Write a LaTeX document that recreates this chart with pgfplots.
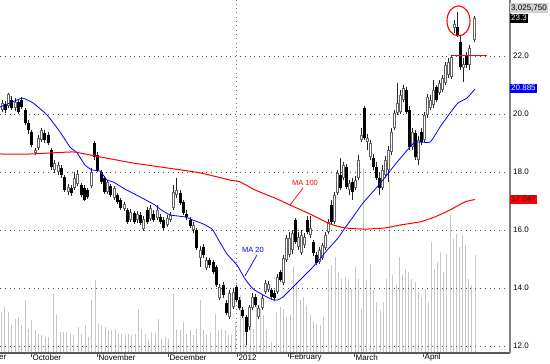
\documentclass[border=0pt]{standalone}
\usepackage{fontspec}
\setmainfont{Liberation Sans}
\usepackage{pgfplots}
\usepackage{pgfplotstable}
\pgfplotsset{compat=1.18}

\pgfplotstableread{
x o h l c
2.5 20.14 20.48 20.07 20.38
5.5 20.34 20.45 20.03 20.14
8.5 20.28 20.72 20.21 20.69
11.5 20.48 20.62 20.14 20.21
15.5 20.21 20.55 20.10 20.41
18.5 20.41 20.48 20.00 20.07
21.5 20.48 20.59 20.17 20.24
25.5 20.14 20.21 19.62 19.69
28.5 19.69 19.79 19.31 19.45
31.5 19.38 19.45 18.86 18.93
35.5 18.66 18.83 18.59 18.76
38.5 18.83 19.28 18.76 19.17
41.5 19.10 19.52 19.03 19.45
44.5 19.34 19.45 19.00 19.10
48.5 19.28 19.38 18.93 19.00
51.5 18.76 18.83 18.07 18.17
54.5 18.07 18.41 17.97 18.31
58.5 18.00 18.34 17.90 18.24
61.5 18.14 18.24 17.79 17.90
64.5 17.83 17.90 17.31 17.38
68.5 17.31 17.59 17.21 17.48
71.5 17.45 17.55 17.17 17.28
74.5 17.45 18.00 17.38 17.79
77.5 17.59 18.07 17.52 17.93
81.5 17.55 17.62 17.14 17.21
84.5 17.45 17.55 17.00 17.03
87.5 17.38 17.45 17.07 17.14
91.5 17.52 18.14 17.45 18.00
94.5 19.00 19.07 18.41 18.52
97.5 18.59 18.69 18.00 18.07
101.5 18.00 18.07 17.59 17.66
104.5 17.79 17.86 17.24 17.31
107.5 17.31 17.72 17.24 17.66
110.5 17.52 17.59 17.14 17.21
114.5 17.10 17.52 17.03 17.45
117.5 17.21 17.28 16.90 16.97
120.5 17.03 17.10 16.69 16.76
124.5 16.72 16.97 16.66 16.90
127.5 16.69 16.76 16.21 16.28
130.5 16.34 16.72 16.28 16.62
134.5 16.59 16.66 16.21 16.28
137.5 16.34 16.66 16.24 16.55
140.5 16.52 16.62 16.17 16.24
143.5 16.03 16.48 15.97 16.38
147.5 16.69 16.79 16.21 16.28
150.5 16.38 16.86 16.31 16.76
153.5 16.55 16.69 16.28 16.34
157.5 16.41 16.86 16.34 16.69
160.5 16.45 16.55 16.21 16.28
163.5 16.34 16.45 16.00 16.07
167.5 16.17 16.52 16.10 16.41
170.5 16.34 16.62 16.28 16.52
173.5 16.76 17.55 16.69 17.31
176.5 17.21 17.79 17.10 17.38
180.5 17.28 17.38 16.86 16.93
183.5 16.97 17.03 16.52 16.59
186.5 16.55 16.69 16.34 16.45
190.5 16.34 16.45 16.07 16.14
193.5 16.00 16.28 15.90 16.17
196.5 16.00 16.07 15.31 15.38
200.5 15.03 15.45 14.72 15.31
203.5 15.41 15.52 15.03 15.14
206.5 14.69 15.07 14.62 14.97
209.5 14.97 15.03 14.69 14.79
213.5 14.90 14.97 14.48 14.55
216.5 14.72 14.79 14.03 14.10
219.5 13.66 14.14 13.59 14.03
223.5 14.10 14.21 13.66 13.76
226.5 13.48 13.59 13.07 13.14
229.5 13.00 13.93 12.93 13.83
233.5 13.34 14.00 13.28 13.86
236.5 14.03 14.10 13.52 13.59
239.5 13.59 13.69 13.24 13.31
242.5 13.24 13.34 12.97 13.03
246.5 13.00 13.07 12.03 12.48
249.5 12.66 13.41 12.55 13.34
252.5 13.31 13.83 13.24 13.69
255.5 13.69 13.79 13.34 13.41
258.5 13.00 13.41 12.93 13.31
262.5 13.31 13.76 13.24 13.66
265.5 13.86 14.28 13.79 14.17
268.5 13.93 14.24 13.86 14.14
271.5 13.93 14.00 13.62 13.69
274.5 13.83 13.93 13.55 13.66
277.5 13.86 14.48 13.79 14.38
280.5 14.55 14.62 14.21 14.28
283.5 14.17 15.14 14.10 15.03
286.5 14.97 15.83 14.90 15.72
289.5 15.14 15.93 15.07 15.72
292.5 15.31 16.00 15.17 15.90
295.5 16.34 16.41 15.52 15.59
298.5 15.41 15.93 15.31 15.76
301.5 15.21 16.00 15.14 15.83
304.5 15.48 15.90 15.38 15.76
307.5 16.34 16.48 15.86 15.93
310.5 15.83 16.48 15.72 16.07
313.5 15.59 15.66 15.10 15.21
316.5 15.14 15.24 14.79 14.86
319.5 14.90 15.41 14.83 15.31
322.5 15.03 15.55 14.97 15.48
325.5 15.38 15.93 15.31 15.83
328.5 15.93 16.38 15.86 16.28
331.5 16.86 17.03 16.21 16.28
334.5 16.28 17.31 16.21 17.21
337.5 17.28 18.07 17.21 17.97
340.5 17.90 18.48 17.38 17.45
343.5 17.79 18.34 17.72 18.24
346.5 18.17 18.28 17.41 17.48
349.5 17.38 17.72 17.21 17.62
352.5 17.66 17.79 17.03 17.31
355.5 17.45 17.86 17.38 17.72
358.5 17.79 18.59 17.72 18.41
361.5 19.10 19.52 19.03 19.28
364.5 20.21 20.28 19.10 19.17
367.5 19.03 19.31 18.76 19.17
370.5 18.52 19.10 18.41 19.00
373.5 18.48 18.62 18.07 18.17
376.5 18.17 18.34 17.72 17.79
379.5 17.79 18.00 17.21 17.45
382.5 17.45 18.24 17.38 18.07
385.5 17.90 18.55 17.79 18.41
388.5 18.07 18.90 17.66 18.76
391.5 18.69 19.52 18.59 19.38
394.5 19.52 20.14 19.45 20.03
397.5 20.03 21.07 19.97 20.38
400.5 20.07 20.83 20.00 20.66
403.5 20.48 21.00 20.41 20.90
406.5 20.83 20.93 20.00 20.07
409.5 20.14 20.28 18.76 18.86
412.5 18.86 19.52 18.76 19.38
415.5 19.34 19.45 18.41 18.52
418.5 18.41 19.24 18.24 19.10
421.5 19.38 19.52 18.93 19.03
424.5 19.10 20.07 19.03 19.97
427.5 19.97 20.69 19.86 20.59
430.5 20.21 20.66 20.14 20.48
433.5 20.31 21.17 20.21 20.83
436.5 20.93 21.00 20.41 20.48
439.5 20.72 21.17 20.66 21.07
442.5 20.83 21.35 20.76 21.24
445.5 21.07 21.79 21.00 21.69
448.5 21.35 21.93 21.24 21.79
451.5 21.28 22.03 21.21 21.97
454.5 22.97 23.24 22.79 23.10
457.5 23.00 23.52 22.65 22.72
460.5 22.48 22.72 21.52 21.62
463.5 21.59 21.93 21.10 21.72
466.5 22.03 22.14 21.59 21.69
469.5 21.69 22.38 21.52 22.28
474.5 22.55 23.38 22.48 23.31
}\candles

\pgfplotstableread{
x v
1.5 410
4.5 460
8.5 410
11.5 280
15.5 340
18.5 360
21.5 280
25.5 530
28.5 240
31.5 330
35.5 230
38.5 190
41.5 180
45.5 160
48.5 160
53.5 590
56.5 380
60.5 210
63.5 210
66.5 210
70.5 190
73.5 180
78.5 260
81.5 190
85.5 280
88.5 160
91.5 530
95.5 730
98.5 290
101.5 280
105.5 260
108.5 230
111.5 230
115.5 240
118.5 190
121.5 190
125.5 180
128.5 190
131.5 180
135.5 190
138.5 440
141.5 240
145.5 190
148.5 140
151.5 210
155.5 190
158.5 340
161.5 140
165.5 160
168.5 140
173.5 590
176.5 240
180.5 230
183.5 310
186.5 190
190.5 230
193.5 180
196.5 240
200.5 530
203.5 230
206.5 180
210.5 210
215.5 390
218.5 230
221.5 240
225.5 230
228.5 180
231.5 180
235.5 310
240.5 580
243.5 440
246.5 310
250.5 280
253.5 240
256.5 540
260.5 440
263.5 380
266.5 240
271.5 110
276.5 410
280.5 460
283.5 440
286.5 360
290.5 380
293.5 860
296.5 710
300.5 530
303.5 560
306.5 480
310.5 380
313.5 310
316.5 290
320.5 280
323.5 360
328.5 840
331.5 880
335.5 960
338.5 810
341.5 740
345.5 760
348.5 740
351.5 640
355.5 860
358.5 740
361.5 440
363.5 1850
366.5 730
370.5 890
373.5 630
376.5 510
380.5 430
383.5 510
386.5 740
389.5 1730
392.5 780
396.5 680
399.5 960
402.5 780
405.5 840
408.5 810
411.5 740
415.5 710
418.5 610
421.5 560
425.5 640
428.5 510
431.5 1110
434.5 840
437.5 910
440.5 1010
443.5 810
446.5 990
450.5 1380
453.5 1140
456.5 1190
459.5 1060
462.5 1180
465.5 1080
468.5 740
471.5 680
475.5 980
}\volume

\pgfplotstableread{
x y
0 20.24
10 20.38
22 20.55
25 20.52
33 20.38
47 19.97
60 19.38
70 18.86
77 18.66
85 18.24
92 18.07
100 18.03
107 17.72
113 17.66
125 17.41
140 17.14
155 16.86
160 16.72
170 16.52
185 16.45
193 16.34
203 16.21
212 16.03
218 15.69
227 15.17
237 14.79
245 14.31
253 13.97
263 13.76
273 13.59
278 13.59
283 13.69
290 13.93
297 14.17
303 14.38
312 14.69
320 15.00
328 15.34
338 15.72
345 16.07
353 16.45
363 16.93
377 17.48
387 17.90
397 18.34
405 18.66
415 19.03
430 19.03
440 19.55
450 20.03
458 20.38
467 20.55
475 20.86
}\maTwenty

\pgfplotstableread{
x y
0 18.62
30 18.62
53 18.66
73 18.69
85 18.62
100 18.52
133 18.31
167 18.14
200 17.97
230 17.72
240 17.66
255 17.38
275 17.10
290 16.86
310 16.55
330 16.21
345 16.07
365 16.03
385 16.07
400 16.17
420 16.28
435 16.45
450 16.69
465 16.97
475 17.05
}\maHundred

\begin{document}
\begin{tikzpicture}[font=\fontsize{8}{9.5}\selectfont]
\begin{axis}[at={(0,0)}, anchor=south west, width=510pt, height=353pt, scale only axis,
  xmin=0, xmax=510, ymin=0, ymax=3530, hide axis]
\addplot[ycomb, draw=gray!45, line width=1.2pt, mark=none] table[x=x, y=v] {\volume};
\end{axis}
\begin{axis}[at={(0,0)}, anchor=south west, width=510pt, height=353pt, scale only axis,
  xmin=0, xmax=510, ymin=11.757, ymax=23.931,
  clip=false,
  axis x line*=bottom, axis y line*=right,
  x axis line style={draw=black!65, line width=1.5pt},
  y axis line style={draw=black!50, line width=2pt},
  ytick={12,14,16,18,20,22},
  yticklabels={12.0,14.0,16.0,18.0,20.0,22.0},
  ytick style={draw=none},
  ymajorgrids,
  y grid style={black!70, line width=0.6pt, dash pattern=on 0.8pt off 4pt},
  xtick={31,97,168,237,288,354,423},
  xticklabels={October,November,December,2012,February,March,April},
  xtick align=outside, major tick length=4pt,
  xtick style={draw=black!70, line width=0.7pt},
  xticklabel style={anchor=west, inner sep=0pt, xshift=1.5pt, yshift=-0.5pt},
  yticklabel style={anchor=west, inner sep=0pt, xshift=3pt},
  candle/.style={draw=none, mark=none, forget plot, restrict y to domain=0:50,
    error bars/.cd, y dir=plus, y explicit, error mark=none},
]
\draw[black!55, line width=0.6pt, dash pattern=on 0.8pt off 3.5pt] (axis cs:236,11.757) -- (axis cs:236,23.931);
% wicks
\addplot[candle, error bar style={draw=black!85, line width=1pt, line cap=butt}]
  table[x=x, y=l, y error plus expr={\thisrow{h}-\thisrow{l}}] {\candles};
% body outline (all candles)
\addplot[candle, error bar style={draw=black!60, line width=3pt, line cap=butt}]
  table[x=x, y expr={min(\thisrow{o},\thisrow{c})}, y error plus expr={abs(\thisrow{c}-\thisrow{o})}] {\candles};
% hollow interior of rising candles
\addplot[candle, error bar style={draw=white, line width=1pt, line cap=butt}]
  table[x=x, y expr={\thisrow{c}-\thisrow{o}>0.07 ? \thisrow{o}+0.035 : 1000}, y error plus expr={\thisrow{c}-\thisrow{o}-0.07}] {\candles};
% solid bodies of falling candles
\addplot[candle, error bar style={draw=black, line width=3pt, line cap=butt}]
  table[x=x, y expr={\thisrow{o}>\thisrow{c} ? \thisrow{c} : 1000}, y error plus expr={\thisrow{o}-\thisrow{c}}] {\candles};
% moving averages
\addplot[blue, line width=0.8pt, mark=none, smooth, tension=0.3] table[x=x, y=y] {\maTwenty};
\addplot[red, line width=1pt, mark=none, smooth, tension=0.3] table[x=x, y=y] {\maHundred};
% annotations
\addplot[red, line width=1pt, mark=none] coordinates {(452,22) (487,22)};
\draw[red, line width=1.1pt] (axis cs:458.5,23.21) ellipse [x radius=11.5pt, y radius=15pt];
\draw[blue, line width=0.7pt] (axis cs:257,15.14) -- (axis cs:245,14.41);
\node[blue, font=\fontsize{7.5}{9}\selectfont, inner sep=0pt] at (axis cs:253,15.31) {MA 20};
\draw[red, line width=0.7pt] (axis cs:303,17.45) -- (axis cs:290,16.86);
\node[red, font=\fontsize{7.5}{9}\selectfont, inner sep=0pt] at (axis cs:305,17.62) {MA 100};
% value boxes
\node[anchor=west, inner sep=0pt, xshift=3pt] at (axis cs:510,24.0) {24.0};
\node[anchor=west, fill=gray!35, text=black, inner xsep=1pt, inner ysep=1pt, text height=6pt, text depth=1.5pt] at (axis cs:510,23.65) {3,025,750};
\node[anchor=west, fill=black, text=white, inner xsep=1pt, inner ysep=1pt, text height=6pt, text depth=1.5pt] at (axis cs:510,23.3) {23.3};
\node[anchor=west, fill=blue, text=white, inner xsep=1pt, inner ysep=1pt, text height=6pt, text depth=1.5pt] at (axis cs:510,20.885) {20.885};
\node[anchor=west, fill=red, text=black!85, inner xsep=1pt, inner ysep=1pt, text height=6pt, text depth=1.5pt] at (axis cs:510,17.047) {17.047};
\node[anchor=west, inner sep=0pt, xshift=-1pt, yshift=-4.5pt] at (axis cs:0,11.757) {er};
\end{axis}
\pgfresetboundingbox
\path (0pt,-11pt) rectangle (550pt,353pt);
\end{tikzpicture}
\end{document}
